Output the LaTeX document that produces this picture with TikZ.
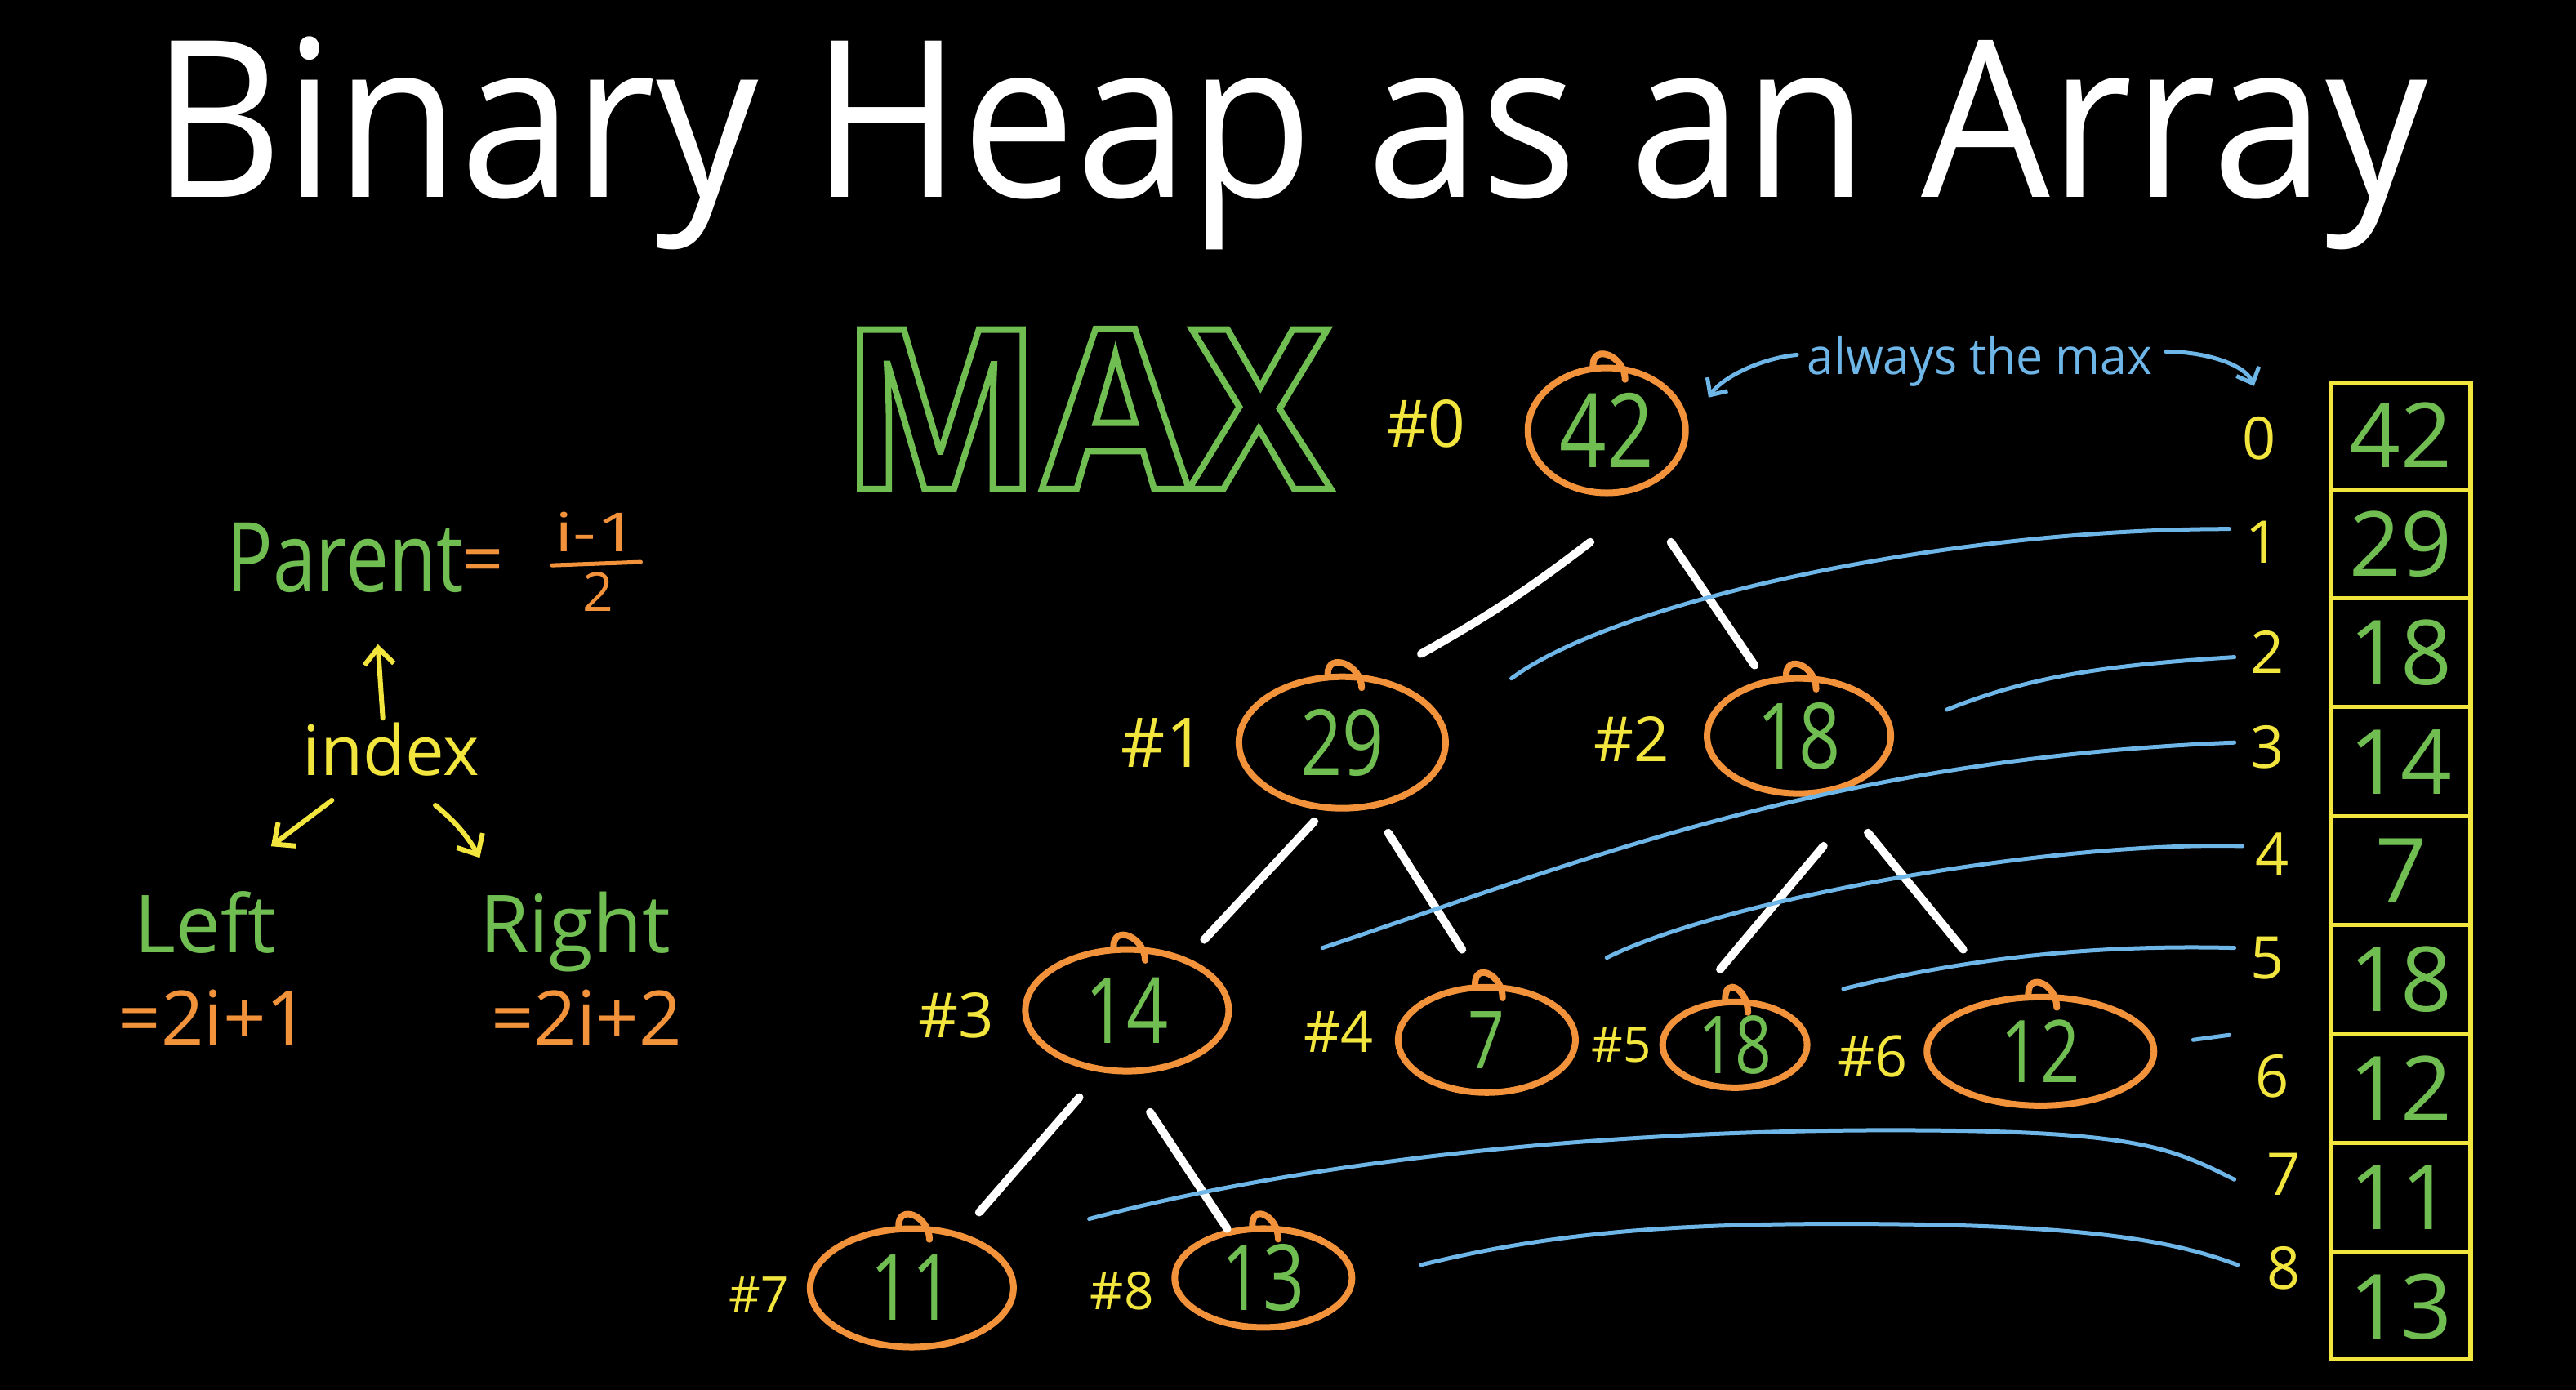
\documentclass[tikz,border=0pt]{standalone}
\usepackage{fontspec}
\usepackage{graphicx}
\setmainfont{Open Sans}
\usetikzlibrary{shapes.geometric,arrows.meta,calc}
\definecolor{hgreen}{RGB}{112,190,82}
\definecolor{horange}{RGB}{242,146,58}
\definecolor{hyellow}{RGB}{242,230,62}
\definecolor{hblue}{RGB}{110,182,232}
\newcommand\myfs[1]{\fontsize{#1pt}{#1pt}\selectfont}
\newcommand\cond[2][0.8]{\scalebox{#1}[1]{#2}}
\newcommand\curl[1]{\draw[horange, line width=8pt, line cap=round] (#1.102) .. controls +(0,-14) and +(0,-14) .. ($(#1.74)+(0,8)$);}
\begin{document}
\begin{tikzpicture}[x=2.0115pt,y=-2.0115pt,
  heap/.style={ellipse, draw=horange, line width=8pt, inner sep=0pt, text=hgreen},
  idxlab/.style={text=hyellow, inner sep=0pt, font=\myfs{72}},
  hashlab/.style={text=hyellow, inner sep=0pt},
  edge/.style={draw=white, line width=10pt, line cap=round},
  link/.style={draw=hblue, line width=5pt, line cap=round},
  yarrow/.style={draw=hyellow, line width=6pt, line cap=round, -{Straight Barb[length=20pt,width=36pt,line width=6pt]}},
  barrow/.style={draw=hblue, line width=5pt, line cap=round, -{Straight Barb[length=16pt,width=30pt,line width=5pt]}},
  txt/.style={inner sep=0pt, anchor=base},
  arrval/.style={text=hgreen, inner sep=0pt, font=\myfs{110}}
]
\fill[black] (0,0) rectangle (1568,846);
\useasboundingbox (0,0) rectangle (1568,846);

% title
\node[txt, text=white, font=\myfs{268}] (title) at (785,120) {\cond[0.93]{Binary Heap as an Array}};

% MAX (outlined letters)
\node[inner sep=0pt, text=hgreen, font=\bfseries\myfs{275}] (maxw) at (661,249)
  {\resizebox{600pt}{196pt}{\special{pdf:literal direct 1 Tr 8 w}MAX\special{pdf:literal direct 0 Tr}}};

% heap nodes
\node[heap, minimum width=193pt, minimum height=153pt, font=\myfs{126}] (n0) at (978,262) {\cond{42}};
\node[heap, minimum width=253pt, minimum height=161pt, font=\myfs{112}] (n1) at (817,452) {\cond{29}};
\node[heap, minimum width=225pt, minimum height=141pt, font=\myfs{112}] (n2) at (1095,448) {\cond{18}};
\node[heap, minimum width=249pt, minimum height=149pt, font=\myfs{112}] (n3) at (686,615) {\cond{14}};
\node[heap, minimum width=217pt, minimum height=129pt, font=\myfs{98}] (n4) at (905,633) {\cond{7}};
\node[heap, minimum width=177pt, minimum height=105pt, font=\myfs{98}] (n5) at (1056,636) {\cond{18}};
\node[heap, minimum width=278pt, minimum height=133pt, font=\myfs{106}] (n6) at (1242,640) {\cond{12}};
\node[heap, minimum width=249pt, minimum height=145pt, font=\myfs{112}] (n7) at (555,784) {\cond{11}};
\node[heap, minimum width=217pt, minimum height=121pt, font=\myfs{112}] (n8) at (769,778) {\cond{13}};
\foreach \n in {n0,n1,n2,n3,n4,n5,n6,n7,n8} {\curl{\n}}

% hash labels
\node[hashlab, font=\myfs{80}] (h0) at (868,258) {\#0};
\node[hashlab, font=\myfs{84}] (h1) at (708,452) {\#1};
\node[hashlab, font=\myfs{76}] (h2) at (993,450) {\#2};
\node[hashlab, font=\myfs{76}] (h3) at (582,618) {\#3};
\node[hashlab, font=\myfs{70}] (h4) at (815,628) {\#4};
\node[hashlab, font=\myfs{60}] (h5) at (987,636) {\#5};
\node[hashlab, font=\myfs{70}] (h6) at (1140,643) {\#6};
\node[hashlab, font=\myfs{60}] (h7) at (462,788) {\#7};
\node[hashlab, font=\myfs{64}] (h8) at (683,786) {\#8};

% tree edges
\draw[edge] ($(n0)+(-10,68)$) to[bend left=4] ($(n1)+(48,-54)$);
\draw[edge] ($(n0)+(39,68)$) -- ($(n2)+(-27,-43)$);
\draw[edge] ($(n1)+(-17,48)$) -- ($(n3)+(47,-43)$);
\draw[edge] ($(n1)+(28,55)$) -- ($(n4)+(-15,-55)$);
\draw[edge] ($(n2)+(15,67)$) -- ($(n5)+(-9,-46)$);
\draw[edge] ($(n2)+(42,59)$) -- ($(n6)+(-47,-62)$);
\draw[edge] ($(n3)+(-29,53)$) -- ($(n7)+(41,-46)$);
\draw[edge] ($(n3)+(14,62)$) -- ($(n8)+(-22,-30)$);

% array
\node[draw=hyellow, line width=6pt, minimum width=171pt, minimum height=1195pt, inner sep=0pt] (arr) at (1461.5,530) {};
\foreach \k in {1,...,8}
  \draw[hyellow, line width=5pt] ($(arr.north west)!{\k/9}!(arr.south west)$) -- ($(arr.north east)!{\k/9}!(arr.south east)$);
\foreach \v [count=\k from 0] in {42,29,18,14,7,18,12,11,13}
  \node[arrval] (a\k) at ($(arr.north)!{(\k+0.5)/9}!(arr.south)$) {\v};

% index labels
\node[idxlab] (idx0) at (1375,267) {0};
\node[idxlab] (idx1) at (1377,330) {1};
\node[idxlab] (idx2) at (1380,397) {2};
\node[idxlab] (idx3) at (1380,455) {3};
\node[idxlab] (idx4) at (1383,520) {4};
\node[idxlab] (idx5) at (1380,583) {5};
\node[idxlab] (idx6) at (1383,655) {6};
\node[idxlab] (idx7) at (1390,715) {7};
\node[idxlab] (idx8) at (1390,772) {8};

% blue links
\draw[link] ($(n1)+(103,-39)$) .. controls +(60,-45) and +(-180,0) .. ($(idx1)+(-20,-8)$);
\draw[link] ($(n2)+(90,-16)$) .. controls +(50,-20) and +(-80,5) .. ($(idx2)+(-20,3)$);
\draw[link] ($(n3)+(119,-38)$) .. controls +(150,-50) and +(-250,10) .. ($(idx3)+(-20,-3)$);
\draw[link] ($(n5)+(-78,-53)$) .. controls +(70,-35) and +(-120,-3) .. ($(idx4)+(-18,-5)$);
\draw[link] ($(n6)+(-120,-38)$) .. controls +(80,-20) and +(-80,-2) .. ($(idx5)+(-20,-6)$);
\draw[link] ($(n6)+(93,-7)$) -- ($(idx6)+(-26,-25)$);
\draw[link] ($(n7)+(108,-42)$) .. controls +(150,-40) and +(-150,0) .. ($(idx7)+(-240,-27)$) .. controls +(150,0) and +(-40,-20) .. ($(idx7)+(-30,3)$);
\draw[link] ($(n8)+(96,-8)$) .. controls +(80,-20) and +(-100,0) .. ($(idx8)+(-270,-27)$) .. controls +(150,0) and +(-40,-15) .. ($(idx8)+(-28,-2)$);

% always the max
\node[txt, text=hblue, font=\myfs{62}] (maxlbl) at (1205,228) {\cond[0.95]{always the max}};
\draw[barrow] ($(maxlbl.west)+(-6,-4)$) .. controls +(-22,2) and +(8,-12) .. ($(n0)+(62,-20)$);
\draw[barrow] ($(maxlbl.east)+(8,-6)$) .. controls +(22,0) and +(-6,-14) .. ($(idx0)+(-3,-32)$);

% formulas
\node[txt, text=hgreen, font=\myfs{118}] (parent) at (210,360) {\cond[0.8]{Parent}};
\node[txt, text=horange, font=\myfs{90}] (peq) at (294,356) {=};
\node[txt, text=horange, font=\myfs{66}] (pnum) at (363,336) {\cond[1.35]{i-1}};
\draw[horange, line width=5pt, line cap=round] ($(pnum.south)+(-27,8)$) -- ($(pnum.south)+(27,6)$);
\node[txt, text=horange, font=\myfs{66}] (pden) at (364,372) {2};
\node[txt, text=hyellow, font=\myfs{85}] (index) at (238,472) {index};
\draw[yarrow] ($(index)+(-5,-19)$) -- ($(index)+(-8,-64)$);
\draw[yarrow] ($(index)+(-36,31)$) -- ($(index)+(-73,59)$);
\draw[yarrow] ($(index)+(27,34)$) .. controls +(12,10) and +(-8,-14) .. ($(index)+(54,66)$);
\node[txt, text=hgreen, font=\myfs{98}] (left) at (125,580) {Left};
\node[txt, text=hgreen, font=\myfs{98}] (right) at (350,580) {Right};
\node[txt, text=horange, font=\myfs{92}] (lform) at (130,636) {=2i+1};
\node[txt, text=horange, font=\myfs{92}] (rform) at (357,636) {=2i+2};
\end{tikzpicture}
\end{document}
